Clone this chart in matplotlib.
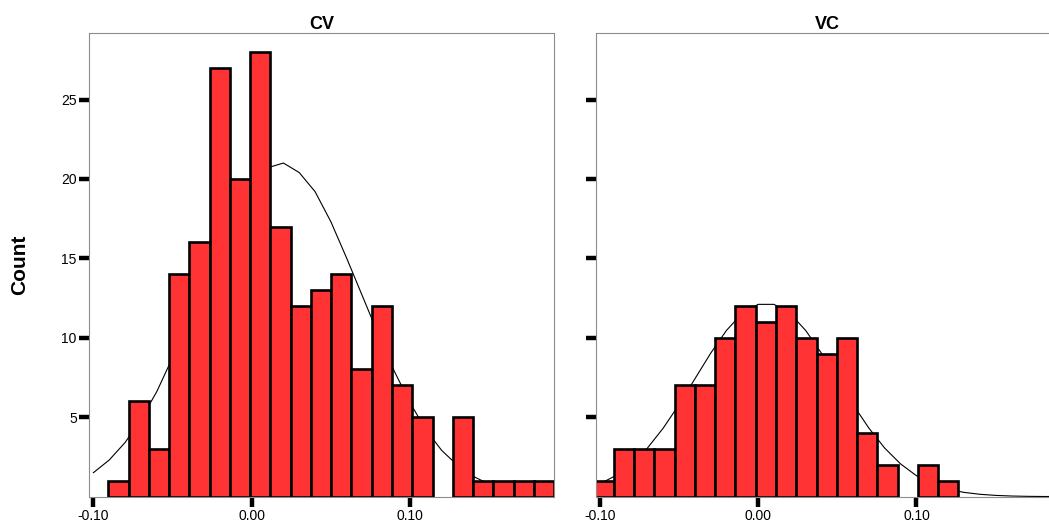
import numpy as np
import matplotlib
matplotlib.use("Agg")
import matplotlib.pyplot as plt

plt.rcParams['font.family'] = ['Liberation Sans', 'DejaVu Sans']

# histogram bin edges and counts
cv_edges = [-0.0906, -0.0778, -0.0650, -0.0522, -0.0394, -0.0266, -0.0138, -0.0010,
            0.0118, 0.0246, 0.0374, 0.0502, 0.0630, 0.0758, 0.0886, 0.1014, 0.1142,
            0.1270, 0.1398, 0.1526, 0.1654, 0.1782, 0.1910]
cv_counts = [1, 6, 3, 14, 16, 27, 20, 28, 17, 12, 13, 14, 8, 12, 7, 5, 0, 5, 1, 1, 1, 1]

vc_edges = [-0.1039, -0.0911, -0.0783, -0.0655, -0.0527, -0.0399, -0.0271, -0.0143,
            -0.0015, 0.0113, 0.0241, 0.0369, 0.0497, 0.0625, 0.0753, 0.0881, 0.1009,
            0.1137, 0.1265]
vc_counts = [1, 3, 3, 3, 7, 7, 10, 12, 11, 12, 10, 9, 10, 4, 2, 0, 2, 1]

# normal curve overlays
curve_x = [-0.10, -0.09, -0.08, -0.07, -0.06, -0.05, -0.04, -0.03, -0.02, -0.01,
           0.00, 0.01, 0.02, 0.03, 0.04, 0.05, 0.06, 0.07, 0.08, 0.09,
           0.10, 0.11, 0.12, 0.13, 0.14, 0.15, 0.16, 0.17, 0.18, 0.19]
cv_curve = [1.5, 2.3, 3.4, 4.85, 6.6, 8.75, 11.1, 13.6, 16.0, 18.1,
            19.7, 20.7, 21.0, 20.4, 19.2, 17.3, 15.0, 12.6, 10.2, 7.9,
            5.9, 4.2, 2.9, 1.96, 1.26, 0.78, 0.46, 0.26, 0.15, 0.08]
vc_curve = [0.8, 1.31, 2.05, 3.04, 4.3, 5.78, 7.4, 9.02, 10.46, 11.54,
            12.1, 12.1, 11.54, 10.46, 9.02, 7.4, 5.78, 4.3, 3.04, 2.05,
            1.31, 0.8, 0.46, 0.26, 0.14, 0.07, 0.03, 0.01, 0.0, 0.0]

titles = ["CV", "VC"]
xticks = [-0.10, 0.00, 0.10]
xticklabels = ["-0.10", "0.00", "0.10"]
yticks = [5, 10, 15, 20, 25]

W, H = 1049, 523
fig = plt.figure(figsize=(W / 100, H / 100), dpi=100)
ax1 = fig.add_axes([89.3 / W, 26.5 / H, 464.2 / W, 463.2 / H])
ax2 = fig.add_axes([595.7 / W, 26.5 / H, 464.2 / W, 463.2 / H])

panels = [(ax1, cv_edges, cv_counts, cv_curve), (ax2, vc_edges, vc_counts, vc_curve)]
for i, (ax, edges, counts, curve) in enumerate(panels):
    edges = np.array(edges)
    counts = np.array(counts)
    keep = counts > 0
    # curve goes under the bars, like the original
    ax.plot(curve_x, curve, color='black', lw=0.8, zorder=1)
    ax.bar(edges[:-1][keep], counts[keep], width=np.diff(edges)[keep], align='edge',
           color='#ff3333', edgecolor='black', linewidth=1.9, zorder=2)
    ax.set_xlim(-0.1026, 0.1906)
    ax.set_ylim(0, 29.17)
    ax.set_xticks(xticks)
    ax.set_xticklabels(xticklabels)
    ax.set_yticks(yticks)
    if i == 0:
        ax.set_yticklabels([str(v) for v in yticks])
    else:
        ax.set_yticklabels([])
    ax.tick_params(axis='both', direction='out', length=7.5, width=3.2,
                   labelsize=10, color='black')
    ax.tick_params(axis='y', pad=1.5)
    ax.tick_params(axis='x', pad=1.8)
    for s in ax.spines.values():
        s.set_color('#8c8c8c')
        s.set_linewidth(0.8)
    ax.set_title(titles[i], fontsize=13, fontweight='bold', pad=3)

fig.text(20 / W, 1 - 265 / H, "Count", rotation=90, ha='center', va='center',
         fontsize=15, fontweight='bold')

fig.savefig("out.png", dpi=100)
